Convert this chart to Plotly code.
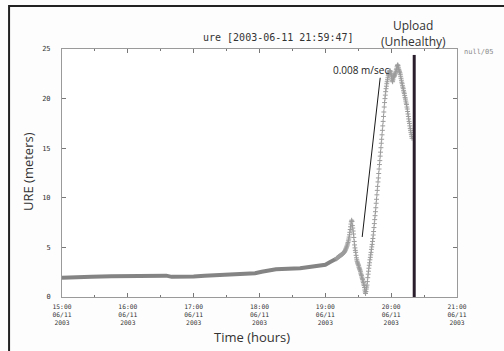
import plotly.graph_objects as go
import pandas as pd

DAY = "2003-06-11"

# Smooth (dense) part of the URE record
base_times = ["15:00", "15:24", "15:27", "15:45", "16:00", "16:20", "16:35", "16:40",
              "16:52", "17:00", "17:10", "17:24", "17:35", "17:56", "18:02", "18:08",
              "18:15", "18:37", "18:55", "19:00", "19:04", "19:08", "19:10"]
base_ure = [1.95, 1.95, 2.05, 2.08, 2.10, 2.15, 2.15, 2.03,
            2.03, 2.07, 2.15, 2.25, 2.35, 2.40, 2.55, 2.70,
            2.80, 2.90, 3.10, 3.25, 3.50, 3.70, 3.85]

# Individual 20-second samples from 19:10:00 onward
spike_start = "19:10:00"
spike_step = "20s"
spike_ure = [
    3.85, 3.88, 3.92, 3.95, 3.98, 4.01, 4.04, 4.07, 4.10, 4.12, 4.15, 4.18,
    4.20, 4.23, 4.26, 4.28, 4.31, 4.34, 4.37, 4.41, 4.45, 4.49, 4.54, 4.60,
    4.67, 4.75, 4.84, 4.93, 5.03, 5.13, 5.24, 5.36, 5.50, 5.66, 5.84, 6.04,
    6.27, 6.52, 6.80, 7.08, 7.35, 7.58, 7.74, 7.62, 7.20, 6.95, 6.65, 6.35,
    6.00, 5.60, 5.25, 4.95, 4.70, 4.50, 4.20, 3.95, 3.75, 3.60, 3.45, 3.35,
    3.25, 3.15, 3.00, 2.90, 2.80, 2.70, 2.55, 2.40, 2.25, 2.15, 2.00, 1.85,
    1.75, 1.60, 1.45, 1.30, 1.15, 0.95, 0.70, 0.50, 0.35, 0.55, 0.80, 1.00,
    1.20, 1.55, 1.95, 2.30, 2.60, 2.90, 3.20, 3.45, 3.75, 4.00, 4.25, 4.50,
    4.80, 5.05, 5.30, 5.60, 5.90, 6.25, 6.60, 7.00, 7.40, 7.80, 8.20, 8.60,
    9.00, 9.45, 9.85, 10.30, 10.75, 11.15, 11.60, 12.00, 12.45, 12.90, 13.35, 13.75,
    14.20, 14.60, 15.05, 15.50, 15.90, 16.35, 16.80, 17.25, 17.70, 18.20, 18.65, 19.15,
    19.60, 20.00, 20.35, 20.70, 21.00, 21.25, 21.50, 21.70, 21.90, 22.10, 22.30, 22.45,
    22.60, 22.70, 22.80, 22.80, 22.70, 22.55, 22.40, 22.20, 22.00, 21.80, 21.70, 21.90,
    22.10, 22.30, 22.20, 22.30, 22.40, 22.50, 22.60, 22.75, 22.90, 23.00, 23.20, 23.35,
    23.40, 23.30, 23.10, 22.95, 22.80, 22.70, 22.60, 22.45, 22.25, 22.05, 21.85, 21.65,
    21.50, 21.30, 21.15, 21.00, 20.80, 20.65, 20.50, 20.30, 20.10, 19.95, 19.75, 19.55,
    19.40, 19.15, 18.95, 18.70, 18.45, 18.20, 17.95, 17.70, 17.50, 17.25, 17.00, 16.80,
    16.60, 16.40, 16.20, 16.00,
]

# Slope guide line and upload marker
slope_times = ["19:33:36", "19:50:00"]
slope_ure = [6.05, 22.1]
slope_label = "0.008 m/sec"
upload_time = "20:21:00"
upload_ure = [0, 24.4]

tick_times = ["15:00", "16:00", "17:00", "18:00", "19:00", "20:00", "21:00"]
tick_text = [t + "<br>06/11<br>2003" for t in tick_times]
y_ticks = [0, 5, 10, 15, 20, 25]

def ts(t):
    return pd.Timestamp(f"{DAY} {t}")

base_x = [ts(t) for t in base_times]
spike_x = pd.date_range(ts(spike_start), periods=len(spike_ure), freq=spike_step)

fig = go.Figure()
fig.add_trace(go.Scatter(x=base_x, y=base_ure, mode="lines",
                         line=dict(color="#848484", width=4), hoverinfo="skip"))
fig.add_trace(go.Scatter(x=spike_x, y=spike_ure, mode="markers",
                         marker=dict(symbol="cross-thin", size=3.5,
                                     line=dict(color="#9c9c9c", width=1)),
                         hoverinfo="skip"))
fig.add_trace(go.Scatter(x=[ts(t) for t in slope_times], y=slope_ure, mode="lines",
                         line=dict(color="#1a1a1a", width=1), hoverinfo="skip"))
fig.add_trace(go.Scatter(x=[ts(upload_time)] * 2, y=upload_ure, mode="lines",
                         line=dict(color="#2a1e2c", width=3), hoverinfo="skip"))

mono = dict(family="DejaVu Sans Mono", size=6.3, color="#333333")
sans = "Open Sans"

fig.update_layout(
    width=504, height=351,
    margin=dict(l=62, r=47, t=49, b=54),
    paper_bgcolor="#fdfdfd", plot_bgcolor="#ffffff",
    showlegend=False,
    xaxis=dict(
        range=[ts("15:00"), ts("21:00")],
        tickvals=[ts(t) for t in tick_times], ticktext=tick_text,
        ticks="inside", ticklen=4, tickcolor="#777777",
        minor=dict(dtick=1800000, ticks="inside", ticklen=2, tickcolor="#777777"),
        showgrid=False, zeroline=False,
        showline=True, linecolor="#9a9a9a", linewidth=1, mirror="ticks",
        tickfont=mono, ticklabelstandoff=3,
    ),
    yaxis=dict(
        range=[0, 25], tickvals=y_ticks, ticktext=[str(v) for v in y_ticks],
        ticks="inside", ticklen=4, tickcolor="#777777",
        showgrid=False, zeroline=False,
        showline=True, linecolor="#9a9a9a", linewidth=1, mirror="ticks",
        tickfont=dict(family="DejaVu Sans Mono", size=7, color="#333333"), ticklabelstandoff=9,
    ),
    annotations=[
        dict(text="ure [2003-06-11 21:59:47]", x=0.549, y=1.048, xref="paper", yref="paper",
             showarrow=False, font=dict(family="DejaVu Sans Mono", size=10, color="#333333"),
             xanchor="center", yanchor="middle"),
        dict(text="Upload", x=0.889, y=1.093, xref="paper", yref="paper", showarrow=False,
             font=dict(family=sans, size=12, color="#333333"), xanchor="center", yanchor="middle"),
        dict(text="(Unhealthy)", x=0.889, y=1.030, xref="paper", yref="paper", showarrow=False,
             font=dict(family=sans, size=12, color="#333333"), xanchor="center", yanchor="middle"),
        dict(text="null/05", x=1.0127, y=0.988, xref="paper", yref="paper", showarrow=False,
             font=dict(family="DejaVu Sans Mono", size=7, color="#8a8a8a"),
             xanchor="left", yanchor="middle"),
        dict(text=slope_label, x=0.757, y=0.915, xref="paper", yref="paper", showarrow=False,
             font=dict(family=sans, size=10, color="#222222"), xanchor="center", yanchor="middle"),
        dict(text="URE (meters)", x=-0.086, y=0.504, xref="paper", yref="paper", showarrow=False,
             textangle=-90, font=dict(family=sans, size=13, color="#333333"),
             xanchor="center", yanchor="middle"),
        dict(text="Time (hours)", x=0.481, y=-0.161, xref="paper", yref="paper", showarrow=False,
             font=dict(family=sans, size=13, color="#333333"), xanchor="center", yanchor="middle"),
    ],
    shapes=[
        dict(type="rect", xref="paper", yref="paper", x0=-0.134, x1=1.3, y0=-0.6, y1=1.173,
             line=dict(color="#222222", width=2), layer="below"),
    ],
)

fig.write_html("out.html")
